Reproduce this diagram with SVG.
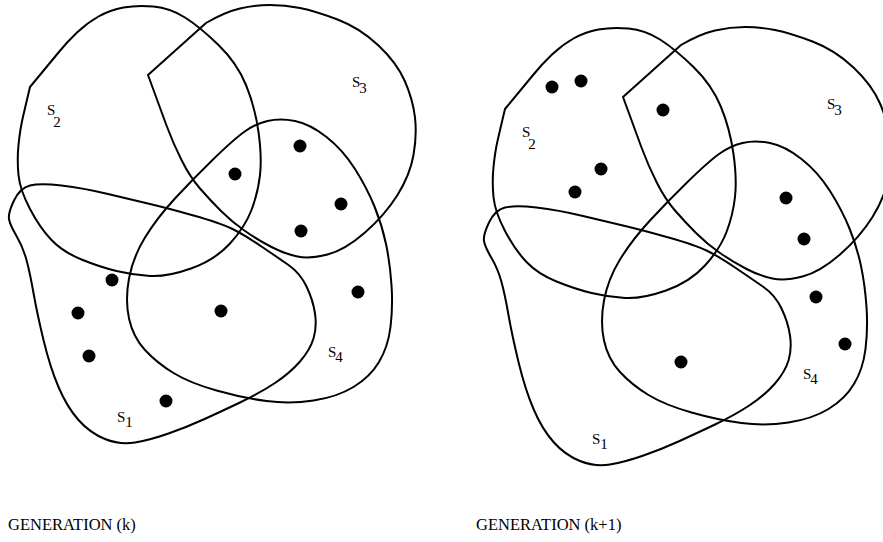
<svg xmlns="http://www.w3.org/2000/svg" xmlns:xlink="http://www.w3.org/1999/xlink" width="883" height="542" viewBox="0 0 883 542">
<style>
.set{fill:none;stroke:#000;stroke-width:2;stroke-linejoin:round}
.dot{fill:#000}
.lbl{font-family:"Liberation Serif","Times New Roman",serif;font-size:15px;fill:#000}
.cap{font-family:"Liberation Serif","Times New Roman",serif;font-size:16.5px;fill:#000}
</style>
<defs>
<g id="sets">
<path class="set" d="M30,87 L58.5,52.5 Q67,42 77,32.5 Q87,23 98.5,16.5 Q110,10 123.5,7.5 Q137,5 153.5,6.5 Q170,8 185,17.5 Q200,27 218.5,45 Q237,63 246,85 Q255,107 258.5,132 Q262,157 260,175 Q258,193 251.5,210 Q245,227 230,243.5 Q215,260 191,268.5 Q167,277 150,276 Q133,275 116.5,271 Q100,267 81.5,259.5 Q63,252 51.5,240 Q40,228 30,209 Q20,190 18.5,175 Q17,160 18.5,145 Q20,130 22.5,119 Q25,108 30,87 Z"/>
<path class="set" d="M148,75 L206,23 Q225,12 240,8.5 Q255,5 270,5 Q285,5 300,8 Q315,11 337.5,19.5 Q360,28 378.5,45.5 Q397,63 405,81.5 Q413,100 415,117.5 Q417,135 413.5,155 Q410,175 397.5,195 Q385,215 365,232.5 Q345,250 327.5,254.5 Q310,259 297.5,256.5 Q285,254 271.5,247 Q258,240 245,231 Q232,222 221,211 Q210,200 200,188.5 Q190,177 181.5,160 Q173,143 166.5,125.5 Q160,108 148,75 Z"/>
<path class="set" d="M267.5,121 Q280,118 295,121 Q310,124 326.5,137 Q343,150 355,169 Q367,188 374.5,206.5 Q382,225 386,244 Q390,263 391.5,285 Q393,307 390.5,327 Q388,347 379,362 Q370,377 353.5,387 Q337,397 313.5,400.5 Q290,404 266.5,401 Q243,398 216.5,390.5 Q190,383 173.5,373 Q157,363 145,350 Q133,337 129,318.5 Q125,300 129,278.5 Q133,257 145,237.5 Q157,218 174.5,199 Q192,180 212.5,160 Q233,140 244,132 Q255,124 267.5,121 Z"/>
<path class="set" d="M14,200.5 Q20,188 30,185.5 Q40,183 61.5,185.5 Q83,188 108,194 Q133,200 150,204 Q167,208 193.5,215.5 Q220,223 231.5,228.5 Q243,234 260,245.5 Q277,257 288.5,265 Q300,273 306.5,286.5 Q313,300 315,313.5 Q317,327 313.5,338.5 Q310,350 300,361.5 Q290,373 275,383 Q260,393 240,402.5 Q220,412 203.5,419.5 Q187,427 168.5,433.5 Q150,440 135,442.5 Q120,445 105,439 Q90,433 78.5,420 Q67,407 58.5,387 Q50,367 43.5,340 Q37,313 33.5,293 Q30,273 26.5,260 Q23,247 16.5,236 Q10,225 9,219 Q8,213 14,200.5 Z"/>
</g>
</defs>
<g id="generation-k">
<g id="sets-k"><use xlink:href="#sets" href="#sets"/></g>
<g id="labels-k">
<text class="lbl" x="47" y="115">S<tspan dx="-2" dy="12">2</tspan></text>
<text class="lbl" x="352" y="87">S<tspan dx="-1" dy="6">3</tspan></text>
<text class="lbl" x="328" y="357">S<tspan dx="-1" dy="5">4</tspan></text>
<text class="lbl" x="117" y="422">S<tspan dx="0" dy="5">1</tspan></text>
</g>
<g id="points-k">
<circle class="dot" cx="300" cy="146" r="6.5"/>
<circle class="dot" cx="235" cy="174" r="6.5"/>
<circle class="dot" cx="341" cy="204" r="6.5"/>
<circle class="dot" cx="301" cy="231" r="6.5"/>
<circle class="dot" cx="112" cy="280" r="6.5"/>
<circle class="dot" cx="78" cy="313" r="6.5"/>
<circle class="dot" cx="221" cy="311" r="6.5"/>
<circle class="dot" cx="358" cy="292" r="6.5"/>
<circle class="dot" cx="89" cy="356" r="6.5"/>
<circle class="dot" cx="166" cy="401" r="6.5"/>
</g>
<text class="cap" x="8" y="530">GENERATION (k)</text>
</g>
<g id="generation-k1">
<g id="sets-k1" transform="translate(475,22)"><use xlink:href="#sets" href="#sets"/></g>
<g id="labels-k1">
<text class="lbl" x="522" y="137">S<tspan dx="-2" dy="12">2</tspan></text>
<text class="lbl" x="827" y="109">S<tspan dx="-1" dy="6">3</tspan></text>
<text class="lbl" x="803" y="379">S<tspan dx="-1" dy="5">4</tspan></text>
<text class="lbl" x="592" y="444">S<tspan dx="0" dy="5">1</tspan></text>
</g>
<g id="points-k1">
<circle class="dot" cx="552" cy="87" r="6.5"/>
<circle class="dot" cx="581" cy="81" r="6.5"/>
<circle class="dot" cx="663" cy="110" r="6.5"/>
<circle class="dot" cx="601" cy="169" r="6.5"/>
<circle class="dot" cx="575" cy="192" r="6.5"/>
<circle class="dot" cx="786" cy="198" r="6.5"/>
<circle class="dot" cx="804" cy="239" r="6.5"/>
<circle class="dot" cx="816" cy="297" r="6.5"/>
<circle class="dot" cx="845" cy="344" r="6.5"/>
<circle class="dot" cx="681" cy="362" r="6.5"/>
</g>
<text class="cap" x="476" y="530">GENERATION (k+1)</text>
</g>
</svg>
